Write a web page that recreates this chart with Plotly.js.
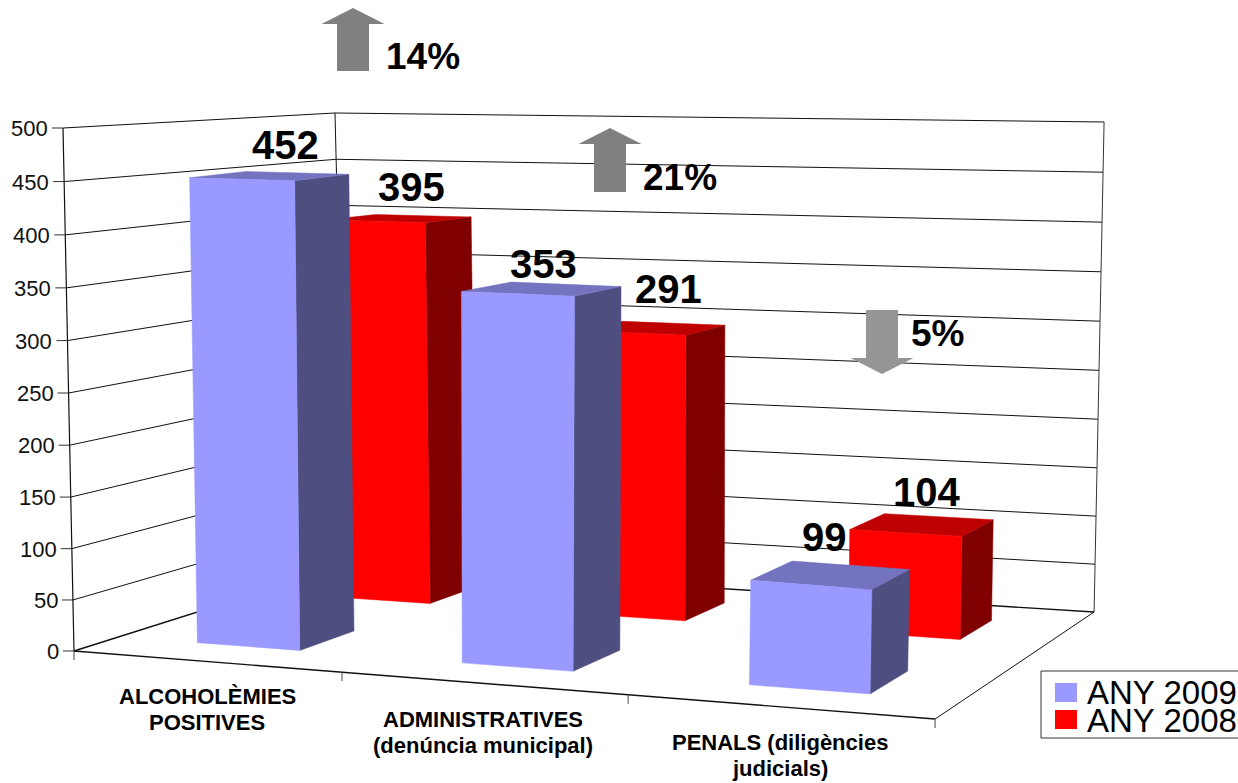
<!DOCTYPE html>
<html>
<head>
<meta charset="utf-8">
<script src="https://cdn.plot.ly/plotly-3.0.1.min.js"></script>
<style>html,body{margin:0;padding:0;background:#fff;overflow:hidden}#chart{width:1238px;height:783px}</style>
</head>
<body>
<div id="chart"></div>
<script>
// ---- data ----
var categories = [["ALCOHOLÈMIES", "POSITIVES"], ["ADMINISTRATIVES", "(denúncia municipal)"], ["PENALS (diligències", "judicials)"]];
var seriesNames = ["ANY 2009", "ANY 2008"];
var values2009 = [452, 353, 99];
var values2008 = [395, 291, 104];
var yTicks = [0, 50, 100, 150, 200, 250, 300, 350, 400, 450, 500];
var changes = ["14%", "21%", "5%"];
var changeDirections = [1, 1, -1];

// ---- drawing styles ----
var colors2009 = {front: "#9999FF", side: "#4E4E80", top: "#7373BF"};
var colors2008 = {front: "#FF0000", side: "#800000", top: "#BF0000"};
var FONT = "Liberation Sans, Arial, sans-serif";
var barHalfWidth = 0.066, barShift = 0.003, barHalfDepth = 0.1;
var rowDepth = [0.245, 0.75];
var yMax = 500;

// ---- 3D projection of the chart box: u along categories, d along series, v value ----
var F = {a: 750, b: 333, c: 74, d: -17.4, e: 13.6, f: 651, g: -0.1188, h: 0.1763};
var VEC = {A: [-11, -523], B: [12, -541], C: [10, -490], D: [-11, -452]};
function P(u, d, v) {
  var w = 1 + F.g * u + F.h * d;
  var x = (F.a * u + F.b * d + F.c) / w, y = (F.d * u + F.e * d + F.f) / w;
  var t = v / yMax;
  t = t - 0.027 * t * (1 - t);               // slight perspective foreshortening of the value axis
  function bl(i) {
    return (1 - u) * (1 - d) * VEC.A[i] + u * (1 - d) * VEC.B[i] + u * d * VEC.C[i] + (1 - u) * d * VEC.D[i];
  }
  var bulge = 108 * u * u * (1 - u) * (1 - d) * (1 - d);  // front edge is not quite straight
  return [x + t * bl(0), y + t * (bl(1) - bulge)];
}

var traces = [];
function poly(pts, color) {
  var xs = pts.map(function (p) { return p[0]; }), ys = pts.map(function (p) { return p[1]; });
  xs.push(xs[0]); ys.push(ys[0]);
  traces.push({type: "scatter", mode: "lines", x: xs, y: ys, fill: "toself", fillcolor: color,
    line: {color: color, width: 0.5}, hoverinfo: "skip", showlegend: false});
}
function line(pts, width, color) {
  traces.push({type: "scatter", mode: "lines", x: pts.map(function (p) { return p[0]; }),
    y: pts.map(function (p) { return p[1]; }), line: {color: color || "#111", width: width},
    hoverinfo: "skip", showlegend: false});
}

// grid on the two walls and the y tick marks
yTicks.forEach(function (t) {
  line([P(0, 0, t), P(0, 1, t), P(1, 1, t)], t === 0 ? 1.4 : 1);
  var p = P(0, 0, t);
  line([[p[0] - 11, p[1]], p], 1, "#333");
});
// box edges
line([P(0, 0, 0), P(0, 0, yMax)], 1.2);
line([P(0, 1, 0), P(0, 1, yMax)], 1);
line([P(1, 1, 0), P(1, 1, yMax)], 1, "#333");
line([P(0, 0, 0), P(1, 0, 0)], 1.4);
line([P(1, 0, 0), P(1, 1, 0)], 1);
// category ticks
[0, 0.339, 0.672, 1].forEach(function (u) {
  var p = P(u, 0, 0);
  line([p, [p[0], p[1] + 9]], 1, "#444");
});

function bars(vals, depth, col) {
  vals.forEach(function (v, i) {
    var c = (i + 0.5) / categories.length + barShift;
    var u0 = c - barHalfWidth, u1 = c + barHalfWidth, d0 = depth - barHalfDepth, d1 = depth + barHalfDepth;
    poly([P(u1, d0, 0), P(u1, d1, 0), P(u1, d1, v), P(u1, d0, v)], col.side);
    poly([P(u0, d0, v), P(u1, d0, v), P(u1, d1, v), P(u0, d1, v)], col.top);
    poly([P(u0, d0, 0), P(u1, d0, 0), P(u1, d0, v), P(u0, d0, v)], col.front);
  });
}
bars(values2008, rowDepth[1], colors2008);
bars(values2009, rowDepth[0], colors2009);

// ---- text ----
var ann = [];
function label(x, y, text, size, bold, anchor, color) {
  ann.push({x: x, y: y, xref: "x", yref: "y", text: bold ? "<b>" + text + "</b>" : text, showarrow: false,
    xanchor: anchor || "center", yanchor: "middle", font: {family: FONT, size: size, color: color || "#000"}});
}
yTicks.forEach(function (t) {
  var p = P(0, 0, t);
  label(p[0] - 13, p[1] + 0.5, String(t), 22, false, "right", "#111");
});
var catPos = [[207, 696], [483, 719], [780, 742]];
categories.forEach(function (c, i) {
  c.forEach(function (ln, k) { label(catPos[i][0], catPos[i][1] + k * 26, ln, 22, true); });
});
var pos2009 = [[285, 145], [543, 264], [824, 537]];
var pos2008 = [[411, 187], [668, 289], [926, 492]];
values2009.forEach(function (v, i) { label(pos2009[i][0], pos2009[i][1], String(v), 40, true); });
values2008.forEach(function (v, i) { label(pos2008[i][0], pos2008[i][1], String(v), 40, true); });
var changePos = [[423, 56], [680, 177], [937, 333]];
changes.forEach(function (c, i) { label(changePos[i][0], changePos[i][1], c, 37, true); });

// ---- arrows and legend box ----
var shapes = [];
function arrow(cx, yTop, yBottom, dir, color) {
  var s = 16, hw = 31.5, hh = 16, p;
  if (dir > 0) {
    p = [[cx, yTop], [cx + hw, yTop + hh], [cx + s, yTop + hh], [cx + s, yBottom], [cx - s, yBottom], [cx - s, yTop + hh], [cx - hw, yTop + hh]];
  } else {
    p = [[cx, yBottom], [cx + hw, yBottom - hh], [cx + s, yBottom - hh], [cx + s, yTop], [cx - s, yTop], [cx - s, yBottom - hh], [cx - hw, yBottom - hh]];
  }
  shapes.push({type: "path", xref: "x", yref: "y", fillcolor: color, line: {width: 0},
    path: "M" + p.map(function (q) { return q[0] + "," + q[1]; }).join("L") + "Z"});
}
var arrowGeom = [[353, 8, 71, "#808080"], [610, 128, 192, "#808080"], [882, 310, 374, "#969696"]];
arrowGeom.forEach(function (a, i) { arrow(a[0], a[1], a[2], changeDirections[i], a[3]); });

shapes.push({type: "rect", xref: "x", yref: "y", x0: 1041, x1: 1245, y0: 671, y1: 738, line: {color: "#333", width: 1}, fillcolor: "#fff"});
shapes.push({type: "rect", xref: "x", yref: "y", x0: 1055, x1: 1077, y0: 683, y1: 702, line: {width: 0}, fillcolor: colors2009.front});
shapes.push({type: "rect", xref: "x", yref: "y", x0: 1055, x1: 1077, y0: 710, y1: 729, line: {width: 0}, fillcolor: colors2008.front});
label(1085, 692.5, seriesNames[0], 33, false, "left");
label(1085, 720, seriesNames[1], 33, false, "left");

Plotly.newPlot("chart", traces, {
  width: 1238, height: 783, margin: {l: 0, r: 0, t: 0, b: 0},
  paper_bgcolor: "#fff", plot_bgcolor: "#fff", showlegend: false,
  xaxis: {range: [0, 1238], visible: false, fixedrange: true},
  yaxis: {range: [783, 0], visible: false, fixedrange: true},
  shapes: shapes, annotations: ann
}, {displayModeBar: false, staticPlot: true});
</script>
</body>
</html>
